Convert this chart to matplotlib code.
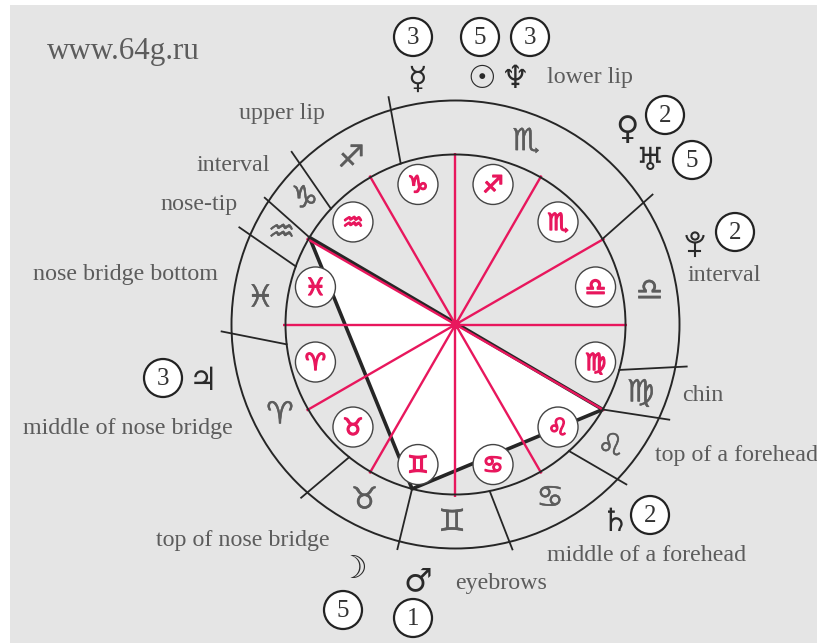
import matplotlib
matplotlib.use('Agg')
import matplotlib.pyplot as plt
from matplotlib.patches import Circle, Polygon, Rectangle, Arc
import matplotlib.patheffects as pe
import numpy as np

# ---------------- data ----------------
zodiac = ['♈', '♉', '♊', '♋', '♌', '♍', '♎', '♏', '♐', '♑', '♒', '♓']
inner_sign_angles = [195, 225, 255, 285, 315, 345, 15, 45, 75, 105, 135, 165]
outer_sign_angles = [207, 242.5, 269, 298.7, 322, 340, 10, 69, 122, 140, 152, 172]
spoke_angles = [0, 30, 60, 90, 120, 150, 180, 210, 240, 270, 300, 330]
cusp_inner_angles = [108.8, 137.1, 149.2, 160, 186.7, 231.3, 255.2, 281.6, 311.9, 330, 344.5, 30.2]
cusp_outer_angles = [106.4, 133.5, 146.4, 155.8, 181.7, 228.3, 255.5, 284.2, 316.9, 336, 349.7, 33.4]
cusp_outer_radii = [237, 238, 229, 237, 234, 232, 232, 232, 234, 234, 235, 236]
triangle_angles = [149.2, 255.2, 330]

planets = ['☿', '☉', '♆', '♀', '♅', 'pluto', '♃', '☽', '♂', '♄']
planet_scores = [3, 5, 3, 2, 5, 2, 3, 5, 1, 2]

labels = ['www.64g.ru', 'upper lip', 'interval', 'nose-tip', 'nose bridge bottom',
          'middle of nose bridge', 'top of nose bridge', 'eyebrows',
          'middle of a forehead', 'top of a forehead', 'chin', 'interval', 'lower lip']

# ---------------- layout (pixels) ----------------
W, H = 817, 643
CX, CY = 455.5, 324.5
R_IN, R_OUT = 170, 224
R_SPOKE = 172
R_SIGNCIRC, SIGNCIRC_R = 145, 20
R_RING = 197

planet_glyph_xy = [(417, 80), (482, 80), (515, 80), (627, 130), (650, 162),
                   (695, 244), (203, 382), (353, 570), (418, 582), (615, 522)]
planet_circle_xy = [(413, 37), (480, 37), (530, 37), (665, 115), (692, 160),
                    (735, 232), (163, 378), (343, 610), (413, 618), (650, 515)]
label_xy = [(47, 59), (239, 119), (197, 171), (160, 210), (33, 280), (23, 434),
            (156, 546), (455, 589), (547, 561), (655, 461), (682, 401), (688, 281), (547, 83)]
label_size = [22.3] + [17.3] * 12

PINK = '#e8175d'
LINE = '#262626'
GREY_TXT = '#5c5c5c'
GLYPH = '#2a2a2a'
BG = '#e5e5e5'


def pol(r, a):
    t = np.deg2rad(a)
    return CX + r * np.cos(t), CY - r * np.sin(t)


fig = plt.figure(figsize=(W / 100, H / 100), dpi=100)
fig.patch.set_facecolor('white')
ax = fig.add_axes([0, 0, 1, 1])
ax.set_xlim(0, W)
ax.set_ylim(H, 0)
ax.axis('off')

ax.add_patch(Rectangle((10, 5), W - 10, H - 5, facecolor=BG, edgecolor='none', zorder=0))

# white triangle
tri = [pol(R_IN, a) for a in triangle_angles]
ax.add_patch(Polygon(tri, closed=True, facecolor='white', edgecolor='none', zorder=1))

# triangle edges (thick black)
ax.add_patch(Polygon(tri, closed=True, facecolor='none', edgecolor=LINE, lw=2.6, zorder=2.5,
                     joinstyle='round'))

# pink spokes
for a in spoke_angles:
    x1, y1 = pol(R_SPOKE, a)
    ax.plot([CX, x1], [CY, y1], color=PINK, lw=1.7, zorder=3, solid_capstyle='butt')
ax.add_patch(Circle((CX, CY), 4, color=PINK, zorder=3.2))

# rings
ax.add_patch(Circle((CX, CY), R_IN, facecolor='none', edgecolor=LINE, lw=1.4, zorder=4))
ax.add_patch(Circle((CX, CY), R_OUT, facecolor='none', edgecolor=LINE, lw=1.4, zorder=4))

# cusps
for ai, ao, ro in zip(cusp_inner_angles, cusp_outer_angles, cusp_outer_radii):
    x0, y0 = pol(R_IN, ai)
    x1, y1 = pol(ro, ao)
    ax.plot([x0, x1], [y0, y1], color=LINE, lw=1.3, zorder=4)

# outer ring glyphs
ring_fx = [pe.withStroke(linewidth=0.3, foreground=GREY_TXT)]
for s, a in zip(zodiac, outer_sign_angles):
    x, y = pol(R_RING, a)
    ax.text(x, y + 1, s, fontsize=22, color=GREY_TXT, ha='center', va='center',
            family='DejaVu Sans', zorder=5, path_effects=ring_fx)

# inner sign circles
pink_fx = [pe.withStroke(linewidth=1.0, foreground=PINK)]
for s, a in zip(zodiac, inner_sign_angles):
    x, y = pol(R_SIGNCIRC, a)
    ax.add_patch(Circle((x, y), SIGNCIRC_R, facecolor='white', edgecolor='#444444', lw=1.0, zorder=6))
    ax.text(x, y + 1, s, fontsize=17, color=PINK, ha='center', va='center',
            family='DejaVu Sans', zorder=7, path_effects=pink_fx)

# planets and scores
for p, sc, (gx, gy), (cx, cy) in zip(planets, planet_scores, planet_glyph_xy, planet_circle_xy):
    if p == 'pluto':
        # astrological Pluto: small circle inside crescent over a cross
        ax.add_patch(Circle((gx, gy - 8), 3.6, facecolor='none', edgecolor=GLYPH, lw=1.5, zorder=7))
        ax.add_patch(Arc((gx, gy - 9), 17, 15, theta1=0, theta2=180, edgecolor=GLYPH, lw=1.5, zorder=7))
        ax.plot([gx, gx], [gy - 1.5, gy + 12], color=GLYPH, lw=1.5, zorder=7)
        ax.plot([gx - 5.5, gx + 5.5], [gy + 6.5, gy + 6.5], color=GLYPH, lw=1.5, zorder=7)
    else:
        ax.text(gx, gy, p, fontsize=23, color=GLYPH, ha='center', va='center',
                family='DejaVu Sans', zorder=7)
    ax.add_patch(Circle((cx, cy), 19, facecolor='white', edgecolor='#222222', lw=1.6, zorder=6))
    ax.text(cx, cy + 1, str(sc), fontsize=18, color='#333333', ha='center', va='center',
            family='Liberation Serif', zorder=7)

# labels
for t, (x, y), fs in zip(labels, label_xy, label_size):
    ax.text(x, y, t, fontsize=fs, color=GREY_TXT, ha='left', va='baseline',
            family='Liberation Serif', zorder=7)

fig.savefig('out.png', dpi=100, facecolor=fig.get_facecolor())
